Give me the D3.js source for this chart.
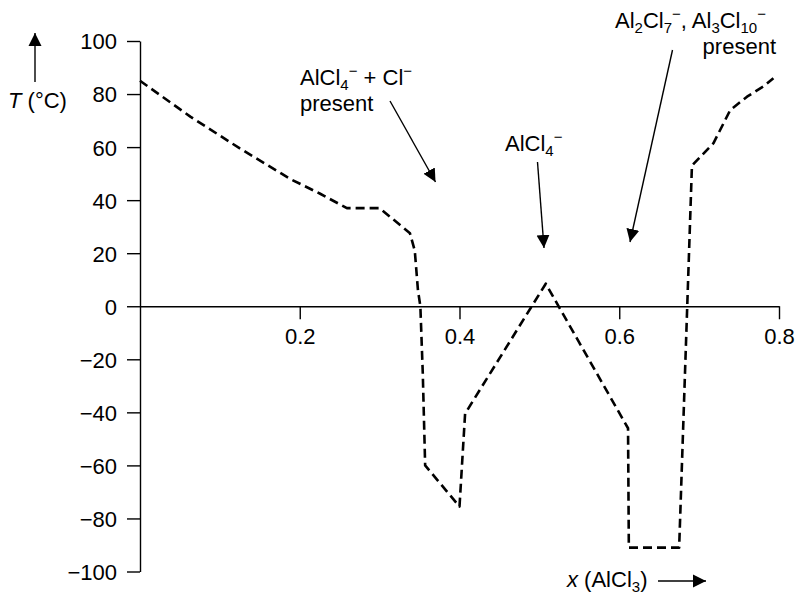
<!DOCTYPE html>
<html>
<head>
<meta charset="utf-8">
<script src="https://cdn.jsdelivr.net/npm/d3@7"></script>
<style>
  html, body { margin: 0; padding: 0; background: #fff; }
  svg text { font-family: "Liberation Sans", Arial, Helvetica, sans-serif; fill: #000; }
</style>
</head>
<body>
<svg id="chart" width="796" height="594"></svg>
<script>
// ---- data ----
const xValues = [0, 0.063, 0.125, 0.188, 0.225, 0.259, 0.300, 0.338, 0.344, 0.348, 0.351, 0.354, 0.357, 0.400, 0.407, 0.508, 0.611, 0.612, 0.675, 0.691, 0.718, 0.739, 0.760, 0.781, 0.793];
const tValues = [85, 71.5, 59.5, 48, 42.5, 37, 37, 27.5, 21, 6, 0, -25, -60, -75.5, -40.5, 8.5, -46, -91, -91, 53, 61.5, 74, 79, 83, 86];
const xTicks = [0.2, 0.4, 0.6, 0.8];
const yTicks = [-100, -80, -60, -40, -20, 0, 20, 40, 60, 80, 100];

const svg = d3.select("#chart");
const FS = 22;

const x = d3.scaleLinear().domain([0, 0.8]).range([140, 779]);
const y = d3.scaleLinear().domain([-100, 100]).range([571.5, 41]);

const fmtY = d => d < 0 ? "\u2212" + Math.abs(d) : String(d);

// y axis
const yAxis = svg.append("g").attr("transform", `translate(${x(0)},0)`)
  .call(d3.axisLeft(y).tickValues(yTicks).tickFormat(fmtY).tickSize(13).tickSizeOuter(0).tickPadding(10));
yAxis.select(".domain").attr("stroke", "#000").attr("stroke-width", 1.4);
yAxis.selectAll(".tick line").attr("stroke", "#000").attr("stroke-width", 1.4);
yAxis.selectAll(".tick text").attr("font-size", FS).attr("font-family", '"Liberation Sans", Arial, sans-serif').attr("fill", "#000").attr("dy", "0.36em");

// x axis (at T = 0)
const xAxis = svg.append("g").attr("transform", `translate(0,${y(0)})`)
  .call(d3.axisBottom(x).tickValues(xTicks).tickFormat(d3.format(".1f")).tickSize(13).tickSizeOuter(0).tickPadding(9));
xAxis.select(".domain").attr("stroke", "#000").attr("stroke-width", 1.4);
xAxis.selectAll(".tick line").attr("stroke", "#000").attr("stroke-width", 1.4);
xAxis.selectAll(".tick text").attr("font-size", FS).attr("font-family", '"Liberation Sans", Arial, sans-serif').attr("fill", "#000");

// curve
const pts = xValues.map((v, i) => [v, tValues[i]]);
const line = d3.line().x(d => x(d[0])).y(d => y(d[1])).curve(d3.curveLinear);
svg.append("path").datum(pts).attr("d", line)
  .attr("fill", "none").attr("stroke", "#000").attr("stroke-width", 2.6)
  .attr("stroke-dasharray", "9,5").attr("stroke-linejoin", "round");

// arrow marker
const defs = svg.append("defs");
defs.append("marker").attr("id", "ah").attr("markerUnits", "userSpaceOnUse")
  .attr("viewBox", "0 -7 13 14").attr("refX", 13).attr("refY", 0)
  .attr("markerWidth", 13).attr("markerHeight", 14).attr("orient", "auto")
  .append("path").attr("d", "M0,-6.5L13,0L0,6.5Z").attr("fill", "#000");

function arrow(x1, y1, x2, y2) {
  svg.append("line").attr("x1", x1).attr("y1", y1).attr("x2", x2).attr("y2", y2)
    .attr("stroke", "#000").attr("stroke-width", 1.4).attr("marker-end", "url(#ah)");
}

// helper for rich text: parts [text, kind] kind: n normal, b sub, p sup, i italic
function rich(xp, yp, parts, anchor) {
  const t = svg.append("text").attr("x", xp).attr("y", yp).attr("font-size", FS)
    .attr("text-anchor", anchor || "start");
  let shift = 0;
  parts.forEach(([s, k]) => {
    const sp = t.append("tspan").text(s);
    let target = 0;
    if (k === "b") { target = 5; sp.attr("font-size", 15); }
    else if (k === "p") { target = -9; sp.attr("font-size", 15); }
    else if (k === "i") { sp.attr("font-style", "italic"); }
    sp.attr("dy", target - shift);
    shift = target;
  });
  return t;
}

// annotation 1
rich(300, 85, [["AlCl", "n"], ["4", "b"], ["\u2212", "p"], [" + Cl", "n"], ["\u2212", "p"]]);
rich(300, 111, [["present", "n"]]);
arrow(390, 101, 435.5, 182);

// annotation 2
rich(505, 151, [["AlCl", "n"], ["4", "b"], ["\u2212", "p"]]);
arrow(537.5, 162, 544, 248);

// annotation 3
rich(615, 28, [["Al", "n"], ["2", "b"], ["Cl", "n"], ["7", "b"], ["\u2212", "p"], [", Al", "n"], ["3", "b"], ["Cl", "n"], ["10", "b"], ["\u2212", "p"]]);
rich(776, 54, [["present", "n"]], "end");
arrow(672.5, 50, 630, 242);

// y axis label
rich(8, 108, [["T", "i"], [" (\u00B0C)", "n"]]);
arrow(35, 82, 35, 33);

// x axis label
rich(567, 587, [["x", "i"], [" (AlCl", "n"], ["3", "b"], [")", "n"]]);
arrow(658, 581, 706, 581);
</script>
</body>
</html>
